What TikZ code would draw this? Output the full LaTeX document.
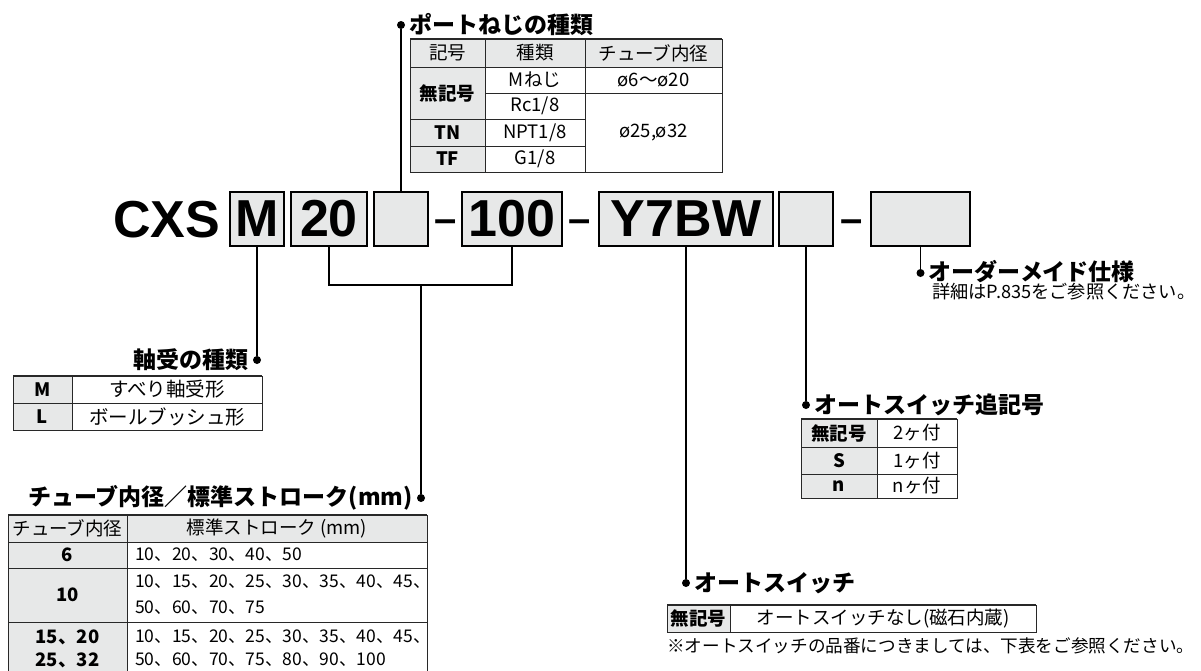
\documentclass[tikz,border=0pt]{standalone}
\usepackage{fontspec}
\setmainfont{Noto Sans CJK JP}
\newfontfamily\codefont{Liberation Sans}
\usetikzlibrary{positioning}
\definecolor{boxgray}{RGB}{231,232,232}
\definecolor{rulegray}{RGB}{40,40,40}

\begin{document}
\begin{tikzpicture}[x=1pt,y=-1pt,
  codebox/.style={draw,line width=1.5pt,fill=boxgray,inner sep=0pt,minimum height=54pt,font=\codefont\bfseries\fontsize{52}{52}\selectfont},
  codetext/.style={inner sep=0pt,font=\codefont\bfseries\fontsize{52}{52}\selectfont},
  codedash/.style={inner sep=0pt,anchor=base,font=\codefont\bfseries\fontsize{40}{40}\selectfont},
  conn/.style={line width=1.5pt},
  dot/.style={circle,fill,inner sep=0pt,minimum size=8pt},
  title/.style={inner sep=0pt,font=\bfseries\fontsize{23}{23}\selectfont},
  cell/.style={inner sep=0pt,font=\fontsize{18.5}{18.5}\selectfont},
  numcell/.style={inner sep=0pt,font=\fontsize{17.5}{17.5}\selectfont},
  bcell/.style={inner sep=0pt,font=\bfseries\fontsize{18.5}{18.5}\selectfont},
  note/.style={inner sep=0pt,font=\fontsize{17.6}{17.6}\selectfont},
  tab/.style={line width=1pt,rulegray}]
\useasboundingbox (0,0) rectangle (1201,670);

% model code
\node [codetext] (cxs) at (166.5,220) {CXS};
\node [codebox, minimum width=54pt] (bM) at (257,219) {M};
\node [codebox, minimum width=76pt] (b20) at (329,219) {20};
\node [codebox, minimum width=54pt] (bport) at (401,219) {};
\node [codedash] (dash1) at (446,232.5) {–};
\node [codebox, minimum width=100pt] (b100) at (512,219) {100};
\node [codedash] (dash2) at (580,232.5) {–};
\node [codebox, minimum width=174pt] (bsw) at (686,219) {Y7BW};
\node [codebox, minimum width=54pt] (bsuf) at (806,219) {};
\node [codedash] (dash3) at (852,232.5) {–};
\node [codebox, minimum width=99pt] (bopt) at (920.5,219) {};

% dots and titles
\node [dot] (dport) at (401,25) {};
\node [title, anchor=west, right=4pt of dport] (tport) {ポートねじの種類};
\node [dot] (dbear) at (257,360) {};
\node [title, anchor=east, left=4pt of dbear] (tbear) {軸受の種類};
\coordinate (brk) at (421,285);
\node [dot] (dtube) at (421,498) {};
\node [title, anchor=east, left=4pt of dtube] (ttube) {チューブ内径／標準ストローク(mm)};
\node [dot] (dsw) at (686,583) {};
\node [title, anchor=west, right=4pt of dsw] (tsw) {オートスイッチ};
\node [dot] (dsuf) at (806,405) {};
\node [title, anchor=west, right=4pt of dsuf] (tsuf) {オートスイッチ追記号};
\node [dot] (dopt) at (920.5,273) {};
\node [title, anchor=west, right=4pt of dopt, yshift=1.5pt] (topt) {オーダーメイド仕様};
\node [note, anchor=west, font=\fontsize{18.2}{18.2}\selectfont] (nopt) at (932,292) {詳細はP.835をご参照ください。};

\draw [conn] (bport.north) -- (dport);
\draw [conn] (bM.south) -- (dbear);
\draw [conn] (b20.south) |- (brk) -| (b100.south);
\draw [conn] (brk) -- (dtube);
\draw [conn] (bsw.south) -- (dsw);
\draw [conn] (bsuf.south) -- (dsuf);
\draw [conn] (bopt.south) -- (dopt);

% % % % % % % % % % % % % % % % % % % % % % % % % %
% port thread table
\fill [boxgray] (410,39) rectangle (722,67);
\fill [boxgray] (410,67) rectangle (485,172);
\draw [tab] (410,39) rectangle (722,172);
\draw [tab, line width=1.6pt] (410,39) -- (722,39);
\draw [tab] (410,67) -- (722,67);
\draw [tab] (485,93) -- (722,93);
\draw [tab] (410,119) -- (585,119);
\draw [tab] (410,146) -- (585,146);
\draw [tab] (485,39) -- (485,172);
\draw [tab] (585,39) -- (585,172);
\node [cell] (p11) at (447.5,53) {記号};
\node [cell] (p12) at (535,53) {種類};
\node [cell] (p13) at (653.5,53) {チューブ内径};
\node [bcell] (p21) at (447.5,93) {無記号};
\node [cell] (p22) at (535,80) {Mねじ};
\node [cell] (p23) at (653.5,80) {ø6〜ø20};
\node [cell] (p32) at (535,106) {Rc1/8};
\node [bcell] (p41) at (447.5,132.5) {TN};
\node [cell] (p42) at (535,132.5) {NPT1/8};
\node [cell] (p43) at (653.5,132.5) {ø25,ø32};
\node [bcell] (p51) at (447.5,159) {TF};
\node [cell] (p52) at (535,159) {G1/8};

% bearing table
\fill [boxgray] (13,376) rectangle (72,430);
\draw [tab] (13,376) rectangle (262,430);
\draw [tab, line width=1.6pt] (13,376) -- (262,376);
\draw [tab] (13,403) -- (262,403);
\draw [tab] (72,376) -- (72,430);
\node [bcell] (m1) at (42.5,389.5) {M};
\node [cell, font=\fontsize{19.5}{19.5}\selectfont] (m2) at (167,389.5) {すべり軸受形};
\node [bcell] (l1) at (42.5,416.5) {L};
\node [cell, font=\fontsize{19.5}{19.5}\selectfont] (l2) at (167,416.5) {ボールブッシュ形};

% tube bore / stroke table
\fill [boxgray] (8,515) rectangle (427,542);
\fill [boxgray] (8,542) rectangle (127,675);
\draw [tab] (8,675) -- (8,515) -- (427,515) -- (427,675);
\draw [tab, line width=1.6pt] (8,515) -- (427,515);
\draw [tab] (8,542) -- (427,542);
\draw [tab] (8,568) -- (427,568);
\draw [tab] (8,622) -- (427,622);
\draw [tab] (127,515) -- (127,675);
\node [cell] (s0a) at (67.5,528.5) {チューブ内径};
\node [cell] (s0b) at (277,528.5) {標準ストローク (mm)};
\node [bcell] (s1a) at (67.5,555) {6};
\node [numcell, anchor=west] (s1b) at (135,555) {10、20、30、40、50};
\node [bcell] (s2a) at (67.5,595) {10};
\node [numcell, anchor=west] (s2b) at (135,582) {10、15、20、25、30、35、40、45、};
\node [numcell, anchor=west] (s2c) at (135,608) {50、60、70、75};
\node [bcell] (s3a) at (67.5,637) {15、20};
\node [bcell] (s3b) at (67.5,660) {25、32};
\node [numcell, anchor=west] (s3c) at (135,637) {10、15、20、25、30、35、40、45、};
\node [numcell, anchor=west] (s3d) at (135,660) {50、60、70、75、80、90、100};

% switch suffix table
\fill [boxgray] (801,419) rectangle (877,498);
\draw [tab] (801,419) rectangle (957,498);
\draw [tab, line width=1.6pt] (801,419) -- (957,419);
\draw [tab] (801,447) -- (957,447);
\draw [tab] (801,474) -- (957,474);
\draw [tab] (877,419) -- (877,498);
\node [bcell] (n1a) at (839,433) {無記号};
\node [cell] (n1b) at (917,433) {2ヶ付};
\node [bcell] (n2a) at (839,460.5) {S};
\node [cell] (n2b) at (917,460.5) {1ヶ付};
\node [bcell] (n3a) at (839,486) {n};
\node [cell] (n3b) at (917,486) {nヶ付};

% switch table
\fill [boxgray] (667,605) rectangle (730,632);
\draw [tab] (667,605) rectangle (1036,632);
\draw [tab, line width=1.6pt] (667,605) -- (1036,605);
\draw [tab] (730,605) -- (730,632);
\node [bcell] (w1) at (698.5,618.5) {無記号};
\node [cell] (w2) at (883,618.5) {オートスイッチなし(磁石内蔵)};
\node [note, anchor=west] (nsw) at (667,646) {※オートスイッチの品番につきましては、下表をご参照ください。};
\end{tikzpicture}
\end{document}
